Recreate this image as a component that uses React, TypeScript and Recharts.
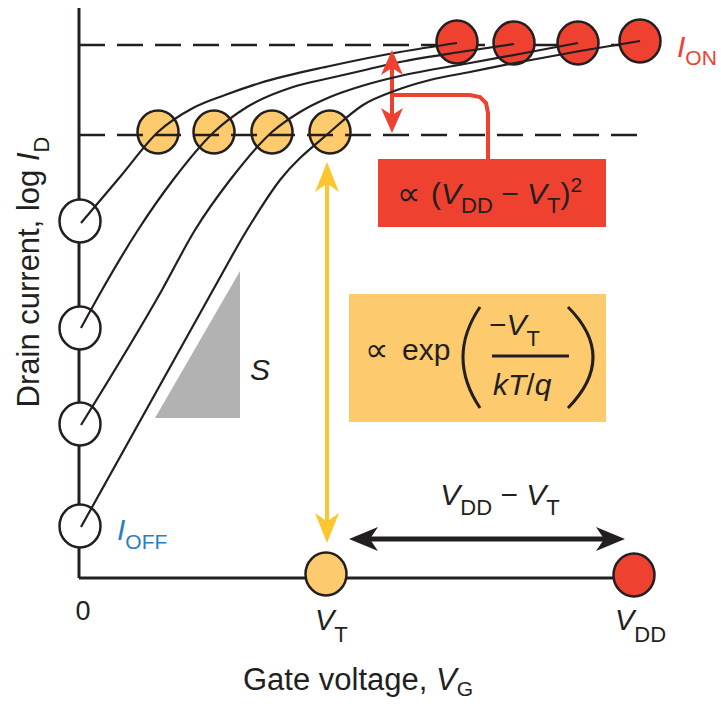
import React from 'react';
import { ComposedChart, XAxis, YAxis, Line, Scatter, Area, ReferenceLine, ReferenceArea } from 'recharts';

const INK = '#231F20';
const RED = '#EE4130';
const AMBER = '#FDCB6D';
const GOLD = '#FDC530';
const BLUE = '#2B7EC1';
const GRAY = '#B2B2B2';
const FONT = '"Liberation Sans", Arial, "DejaVu Sans", sans-serif';
const SYM = '"DejaVu Sans", sans-serif';

// gate voltage and log drain current, both in arbitrary units
const VT = 24.7;
const VDD = 55.5;
const logIon = 53.3;
const logIth = 44.3;
const vgTicks = [0, VT, VDD];

const offPoints = [
  { x: 0.1, y: 35.7 }, { x: 0.1, y: 25.0 }, { x: 0.1, y: 15.4 }, { x: 0.1, y: 5.2 },
];
const thresholdPoints = [
  { x: 7.9, y: 44.6 }, { x: 13.5, y: 44.6 }, { x: 19.3, y: 44.6 }, { x: 25.1, y: 44.6 },
];
const onPoints = [
  { x: 37.8, y: 53.6 }, { x: 43.5, y: 53.5 }, { x: 49.9, y: 53.5 }, { x: 56.1, y: 53.7 },
];
const axisPoints = [
  { x: VT, y: 0.4, fill: AMBER }, { x: VDD, y: 0.3, fill: RED },
];

const curveA = [
  { x: 0.2, y: 35.5 }, { x: 4.1, y: 40.1 }, { x: 7.9, y: 44.6 }, { x: 11.4, y: 47.0 },
  { x: 14.6, y: 48.3 }, { x: 18.1, y: 49.5 }, { x: 25.1, y: 51.2 }, { x: 32.1, y: 52.6 },
  { x: 37.8, y: 53.5 },
];
const curveB = [
  { x: 0.2, y: 25.0 }, { x: 2.3, y: 28.8 }, { x: 5.9, y: 34.8 }, { x: 9.4, y: 39.8 },
  { x: 13.5, y: 44.6 }, { x: 16.8, y: 47.1 }, { x: 21.4, y: 49.1 }, { x: 25.1, y: 50.0 },
  { x: 28.6, y: 50.8 }, { x: 32.1, y: 51.6 }, { x: 38.1, y: 52.6 }, { x: 43.5, y: 53.4 },
];
const curveC = [
  { x: 0.2, y: 15.3 }, { x: 8.3, y: 28.8 }, { x: 11.6, y: 34.8 }, { x: 15.1, y: 39.8 },
  { x: 19.3, y: 44.6 }, { x: 22.1, y: 46.6 }, { x: 25.1, y: 48.1 }, { x: 28.6, y: 49.3 },
  { x: 32.1, y: 50.2 }, { x: 39.1, y: 51.5 }, { x: 45.1, y: 52.6 }, { x: 49.9, y: 53.5 },
];
const curveD = [
  { x: 0.2, y: 5.1 }, { x: 13.4, y: 28.8 }, { x: 16.8, y: 34.8 }, { x: 20.1, y: 39.8 },
  { x: 25.1, y: 44.6 }, { x: 28.4, y: 47.3 }, { x: 31.8, y: 48.8 }, { x: 35.1, y: 49.8 },
  { x: 39.1, y: 50.6 }, { x: 44.1, y: 51.6 }, { x: 50.1, y: 52.7 }, { x: 56.1, y: 53.7 },
];

// slope triangle S
const slopeWedge = [{ x: 7.6, y: 16.0 }, { x: 16.1, y: 30.7 }];

// annotation arrows (tips) and the red leader into the box
const goldHeads = [{ x: 24.8, y: 41.6, dir: 'up' }, { x: 24.8, y: 3.5, dir: 'down' }];
const redHeads = [{ x: 31.3, y: 52.8, dir: 'up' }, { x: 31.3, y: 44.5, dir: 'down' }];
const blackHeads = [{ x: 27.0, y: 3.9, dir: 'left' }, { x: 54.6, y: 3.9, dir: 'right' }];
const leader = [
  { x: 31.3, y: 48.3 }, { x: 39.1, y: 48.3 }, { x: 40.1, y: 48.1 }, { x: 40.7, y: 47.5 },
  { x: 40.9, y: 46.5 }, { x: 40.9, y: 41.9 },
];

const notes = [
  { x: 59.8, y: 52.1, id: 'ion' },
  { x: 3.8, y: 3.8, id: 'ioff' },
  { x: 17.1, y: 19.8, id: 's' },
  { x: 42.1, y: 7.3, id: 'gap' },
  { x: 31.9, y: 37.4, id: 'on' },
  { x: 45.1, y: 22.2, id: 'sub' },
];

const bubble = (fill: string) => (p: any) => (
  <ellipse cx={p.cx} cy={p.cy} rx={20.5} ry={21.5} fill={p.payload.fill || fill} stroke={INK} strokeWidth={2.5} />
);

const DIRS: Record<string, [number, number]> = { up: [0, -1], down: [0, 1], left: [-1, 0], right: [1, 0] };

const head = (color: string, len: number, half: number) => (p: any) => {
  const [ux, uy] = DIRS[p.payload.dir];
  const bx = p.cx - ux * len;
  const by = p.cy - uy * len;
  const nx = p.cx - ux * len * 0.72;
  const ny = p.cy - uy * len * 0.72;
  const pts = [
    [p.cx, p.cy],
    [bx - uy * half, by + ux * half],
    [nx, ny],
    [bx + uy * half, by - ux * half],
  ].map((q) => q.join(',')).join(' ');
  return <polygon points={pts} fill={color} />;
};

const Note = (p: any) => {
  const { cx, cy } = p;
  const base = { fontFamily: FONT, fontSize: 30, fill: INK };
  switch (p.payload.id) {
    case 'ion':
      return (
        <text x={cx} y={cy} {...base} fill={RED}>
          <tspan fontStyle="italic">I</tspan>
          <tspan fontSize={21} dy={8}>ON</tspan>
        </text>
      );
    case 'ioff':
      return (
        <text x={cx} y={cy} {...base} fill={BLUE}>
          <tspan fontStyle="italic">I</tspan>
          <tspan fontSize={21} dy={9}>OFF</tspan>
        </text>
      );
    case 's':
      return <text x={cx} y={cy} {...base} fontStyle="italic">S</text>;
    case 'gap':
      return (
        <text x={cx} y={cy} {...base} textAnchor="middle">
          <tspan fontStyle="italic">V</tspan>
          <tspan fontSize={22} dy={10}>DD</tspan>
          <tspan dy={-10}> − </tspan>
          <tspan fontStyle="italic">V</tspan>
          <tspan fontSize={22} dy={10}>T</tspan>
        </text>
      );
    case 'on':
      return (
        <g>
          <text x={cx - 1} y={cy + 1} {...base} fontFamily={SYM} fontSize={33}>∝</text>
          <text x={cx + 33} y={cy} {...base}>
            <tspan>(</tspan>
            <tspan fontStyle="italic">V</tspan>
            <tspan fontSize={22} dy={9}>DD</tspan>
            <tspan dy={-9}> − </tspan>
            <tspan fontStyle="italic">V</tspan>
            <tspan fontSize={22} dy={9}>T</tspan>
            <tspan dy={-9}>)</tspan>
            <tspan fontSize={21} dy={-12}>2</tspan>
          </text>
        </g>
      );
    case 'sub':
      return (
        <g>
          <text x={cx - 165} y={cy + 5} {...base} fontFamily={SYM} fontSize={33}>∝</text>
          <text x={cx - 128} y={cy + 4} {...base}>exp</text>
          <path d={`M${cx - 50},${cy - 49} Q${cx - 84},${cy + 1} ${cx - 50},${cy + 52}`} fill="none" stroke={INK} strokeWidth={3} />
          <path d={`M${cx + 38},${cy - 49} Q${cx + 88},${cy + 1} ${cx + 38},${cy + 52}`} fill="none" stroke={INK} strokeWidth={3} />
          <line x1={cx - 38} x2={cx + 39} y1={cy} y2={cy} stroke={INK} strokeWidth={3} />
          <text x={cx - 41} y={cy - 21} {...base}>
            <tspan>−</tspan>
            <tspan fontStyle="italic">V</tspan>
            <tspan fontSize={22} dy={11}>T</tspan>
          </text>
          <text x={cx - 37} y={cy + 39} {...base}>
            <tspan fontStyle="italic">kT</tspan>
            <tspan>/</tspan>
            <tspan fontStyle="italic">q</tspan>
          </text>
        </g>
      );
    default:
      return null;
  }
};

const VgTick = (p: any) => {
  const { x, y, payload } = p;
  const v = payload.value;
  if (v === 0) {
    return <text x={x + 4} y={y + 34} textAnchor="middle" fontFamily={FONT} fontSize={27} fill={INK}>0</text>;
  }
  const isVt = v === VT;
  return (
    <text x={x - (isVt ? 11 : 19)} y={y + 44} fontFamily={FONT} fontSize={29} fill={INK}>
      <tspan fontStyle="italic">V</tspan>
      <tspan fontSize={22} dy={12}>{isVt ? 'T' : 'DD'}</tspan>
    </text>
  );
};

const XLabel = (p: any) => {
  const vb = p.viewBox;
  return (
    <text x={vb.x + 164} y={vb.y + 112} fontFamily={FONT} fontSize={31} fill={INK}>
      <tspan>Gate voltage, </tspan>
      <tspan fontStyle="italic">V</tspan>
      <tspan fontSize={21} dy={6}>G</tspan>
    </text>
  );
};

const YLabel = (p: any) => {
  const vb = p.viewBox;
  const x = vb.x + 39;
  const y = vb.y + 264;
  return (
    <text x={x} y={y} transform={`rotate(-90, ${x}, ${y})`} textAnchor="middle" fontFamily={FONT} fontSize={31} fill={INK}>
      <tspan>Drain current, log </tspan>
      <tspan fontStyle="italic">I</tspan>
      <tspan fontSize={22} dy={10}>D</tspan>
    </text>
  );
};

export default function App() {
  const curves = [curveA, curveB, curveC, curveD];
  return (
    <div style={{ position: 'absolute', left: 0, top: 0, width: 721, height: 704, background: '#fff' }}>
      <ComposedChart width={721} height={704} margin={{ top: 8, right: 2, bottom: 0, left: 0 }}>
        <XAxis
          type="number"
          dataKey="x"
          domain={[0, 64]}
          ticks={vgTicks}
          interval={0}
          height={126}
          axisLine={false}
          tickLine={false}
          tick={<VgTick />}
          label={{ content: <XLabel /> }}
        />
        <YAxis
          type="number"
          dataKey="y"
          domain={[0, 57]}
          width={79}
          axisLine={false}
          tickLine={false}
          tick={false}
          label={{ content: <YLabel /> }}
        />

        <ReferenceArea x1={29.9} x2={52.7} y1={35.1} y2={41.9} fill={RED} fillOpacity={1} stroke="none" zIndex={10} />
        <ReferenceArea x1={27.0} x2={52.7} y1={15.6} y2={28.4} fill={AMBER} fillOpacity={1} stroke="none" zIndex={10} />
        <Area data={slopeWedge} dataKey="y" type="linear" baseValue={16.0} fill={GRAY} fillOpacity={1} stroke="none" isAnimationActive={false} dot={false} activeDot={false} zIndex={10} />

        <ReferenceLine segment={[{ x: 0, y: 0 }, { x: 0, y: 57 }]} stroke={INK} strokeWidth={3} ifOverflow="visible" zIndex={20} />
        <ReferenceLine segment={[{ x: 0, y: 0 }, { x: VDD, y: 0 }]} stroke={INK} strokeWidth={3} ifOverflow="visible" zIndex={20} />
        <ReferenceLine segment={[{ x: 0, y: logIon }, { x: 54.1, y: logIon }]} stroke={INK} strokeWidth={2.5} strokeDasharray="26 12" ifOverflow="visible" zIndex={20} />

        <ReferenceLine segment={[{ x: 24.8, y: 40.5 }, { x: 24.8, y: 4.5 }]} stroke={GOLD} strokeWidth={4} ifOverflow="visible" zIndex={30} />
        <ReferenceLine segment={[{ x: 31.3, y: 52.0 }, { x: 31.3, y: 45.3 }]} stroke={RED} strokeWidth={4} ifOverflow="visible" zIndex={30} />
        <ReferenceLine segment={[{ x: 28.0, y: 3.9 }, { x: 53.6, y: 3.9 }]} stroke={INK} strokeWidth={5} ifOverflow="visible" zIndex={30} />
        <Line data={leader} dataKey="y" type="linear" stroke={RED} strokeWidth={4} dot={false} activeDot={false} isAnimationActive={false} zIndex={30} />

        <Scatter data={axisPoints} dataKey="y" shape={bubble(AMBER)} isAnimationActive={false} zIndex={40} />
        <Scatter data={onPoints} dataKey="y" shape={bubble(RED)} isAnimationActive={false} zIndex={40} />
        <Scatter data={thresholdPoints} dataKey="y" shape={bubble(AMBER)} isAnimationActive={false} zIndex={40} />
        <Scatter data={offPoints} dataKey="y" shape={bubble('#fff')} isAnimationActive={false} zIndex={40} />

        <ReferenceLine segment={[{ x: 0, y: logIth }, { x: 55.8, y: logIth }]} stroke={INK} strokeWidth={2.5} strokeDasharray="26 12" ifOverflow="visible" zIndex={50} />

        {curves.map((c, i) => (
          <Line key={i} data={c} dataKey="y" type="monotone" stroke={INK} strokeWidth={2.2} dot={false} activeDot={false} isAnimationActive={false} zIndex={60} />
        ))}

        <Scatter data={goldHeads} dataKey="y" shape={head(GOLD, 30, 12)} isAnimationActive={false} zIndex={70} />
        <Scatter data={redHeads} dataKey="y" shape={head(RED, 25, 11)} isAnimationActive={false} zIndex={70} />
        <Scatter data={blackHeads} dataKey="y" shape={head(INK, 29, 12)} isAnimationActive={false} zIndex={70} />
        <Scatter data={notes} dataKey="y" shape={Note} isAnimationActive={false} zIndex={70} />
      </ComposedChart>
    </div>
  );
}
